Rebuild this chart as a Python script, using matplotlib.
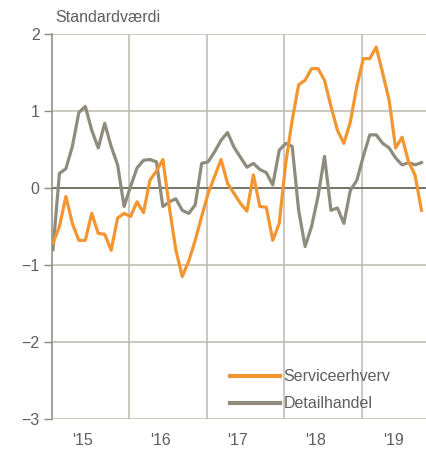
import matplotlib.pyplot as plt
import numpy as np

plt.rcParams['font.family'] = ['Liberation Sans', 'DejaVu Sans']

# ---------------- data (monthly, standardised values) ----------------
serviceerhverv = [-0.72, -0.50, -0.11, -0.46, -0.68, -0.68, -0.33, -0.59, -0.60, -0.81,
                  -0.39, -0.33, -0.37, -0.18, -0.32, 0.10, 0.22, 0.37, -0.25, -0.80,
                  -1.15, -0.95, -0.68, -0.37, -0.07, 0.15, 0.37, 0.06, -0.07, -0.20,
                  -0.30, 0.17, -0.24, -0.25, -0.68, -0.46, 0.32, 0.88, 1.34, 1.40,
                  1.55, 1.55, 1.40, 1.06, 0.75, 0.58, 0.86, 1.32, 1.68, 1.68,
                  1.83, 1.49, 1.14, 0.52, 0.66, 0.34, 0.17, -0.29]
detailhandel = [-0.80, 0.19, 0.25, 0.54, 0.98, 1.06, 0.75, 0.52, 0.84, 0.54,
                0.30, -0.24, 0.02, 0.26, 0.36, 0.37, 0.34, -0.24, -0.18, -0.14,
                -0.29, -0.33, -0.22, 0.32, 0.34, 0.47, 0.62, 0.72, 0.53, 0.40,
                0.27, 0.32, 0.24, 0.20, 0.04, 0.49, 0.58, 0.54, -0.29, -0.76,
                -0.50, -0.11, 0.41, -0.29, -0.26, -0.46, -0.03, 0.10, 0.41, 0.69,
                0.69, 0.58, 0.52, 0.39, 0.30, 0.33, 0.30, 0.33]
year_labels = ["'15", "'16", "'17", "'18", "'19"]

months = np.arange(len(serviceerhverv))

ORANGE = '#F39530'
GRAY = '#8F8C7E'
GRID = '#BDBAAD'
TXT = '#5F5F5F'

fig = plt.figure(figsize=(4.26, 4.49), dpi=100)
ax = fig.add_axes([52/426, 1 - 419/449, 374/426, 385/449])

ax.plot(months, serviceerhverv, color=ORANGE, lw=2.3, label='Serviceerhverv',
        solid_joinstyle='round', zorder=4)
ax.plot(months, detailhandel, color=GRAY, lw=2.3, label='Detailhandel',
        solid_joinstyle='round', zorder=3)

ax.set_xlim(-0.15, 57.7)
ax.set_ylim(-3, 2)

# y axis
ax.set_yticks([-3, -2, -1, 0, 1, 2])
ax.yaxis.grid(True, color=GRID, lw=1.1)
ax.axhline(0, color='#6E6D62', lw=1.3, zorder=2)

# x axis: labels mid-year, grid at year change
ax.set_xticks([4.6 + 12 * k for k in range(len(year_labels))])
ax.set_xticklabels(year_labels)
ax.set_xticks([11.75 + 12 * k for k in range(4)], minor=True)
ax.xaxis.grid(True, which='minor', color=GRID, lw=1.1)
ax.tick_params(axis='x', which='both', length=0, pad=10, labelsize=11.5, colors=TXT)
ax.tick_params(axis='y', length=6, width=1, color='#8C8A7F', pad=3, labelsize=11.5,
               labelcolor=TXT)
ax.set_axisbelow(True)

for s in ['top', 'right', 'bottom']:
    ax.spines[s].set_visible(False)
ax.spines['left'].set_color('#8C8A7F')
ax.spines['left'].set_linewidth(1.1)

fig.text(55/426, 1 - 18/449, 'Standardværdi', fontsize=11.5, color=TXT, va='center')

leg = ax.legend(loc='lower left', bbox_to_anchor=(0.476, 0.02), frameon=False,
                fontsize=11.5, handlelength=3.1, handletextpad=0.25, labelspacing=0.75,
                borderpad=0, borderaxespad=0)
for t in leg.get_texts():
    t.set_color(TXT)
for h in leg.get_lines():
    h.set_linewidth(3)

fig.savefig('out.png', dpi=100)
